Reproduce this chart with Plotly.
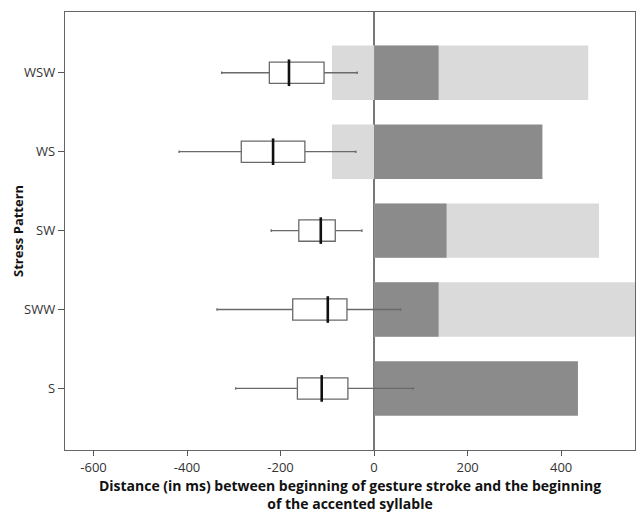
import plotly.graph_objects as go

# ---- data ----
categories = ["S", "SWW", "SW", "WS", "WSW"]

light_start = [0, 0, 0, -90, -90]
light_end = [0, 600, 481, 0, 458]
dark_end = [436, 138, 155, 360, 138]

box_lower = [-296, -336, -220, -417, -326]
box_q1 = [-164, -174, -161, -284, -224]
box_median = [-112, -99, -114, -216, -182]
box_q3 = [-56, -58, -83, -148, -107]
box_upper = [84, 57, -26, -39, -36]

x_ticks = [-600, -400, -200, 0, 200, 400]

FONT = "Open Sans"

fig = go.Figure()

fig.add_trace(go.Bar(
    y=categories,
    x=[e - s for s, e in zip(light_start, light_end)],
    base=light_start,
    orientation="h",
    width=0.69,
    marker=dict(color="#dadada", line=dict(width=0)),
    showlegend=False,
))
fig.add_trace(go.Bar(
    y=categories,
    x=dark_end,
    base=[0] * len(categories),
    orientation="h",
    width=0.69,
    marker=dict(color="#8b8b8b", line=dict(width=0)),
    showlegend=False,
))

fig.add_trace(go.Box(
    y=categories,
    orientation="h",
    q1=box_q1,
    median=box_median,
    q3=box_q3,
    lowerfence=box_lower,
    upperfence=box_upper,
    width=0.27,
    whiskerwidth=0.12,
    fillcolor="white",
    line=dict(color="#6a6a6a", width=1.3),
    boxpoints=False,
    showlegend=False,
))

fig.add_trace(go.Scatter(
    x=box_median,
    y=categories,
    mode="markers",
    marker=dict(symbol="line-ns", size=19, line=dict(color="#111111", width=2.6)),
    showlegend=False,
    hoverinfo="skip",
))

fig.update_layout(
    width=636,
    height=519,
    margin=dict(l=65, r=1, t=12, b=69, autoexpand=False),
    paper_bgcolor="white",
    plot_bgcolor="white",
    barmode="overlay",
    font=dict(family=FONT, color="#333333", size=13),
)

fig.update_xaxes(
    automargin=False,
    range=[-661, 558],
    tickvals=x_ticks,
    ticktext=[str(v) for v in x_ticks],
    ticks="outside",
    ticklen=5,
    tickcolor="#555555",
    showgrid=False,
    showline=True,
    linecolor="#666666",
    linewidth=1.3,
    mirror=True,
    zeroline=True,
    zerolinecolor="#777777",
    zerolinewidth=1.5,
    tickfont=dict(family=FONT, size=13, color="#333333"),
    title=dict(
        text="<b>Distance (in ms) between beginning of gesture stroke and the beginning<br>of the accented syllable</b>",
        font=dict(family=FONT, size=14, color="#111111"),
        standoff=5,
    ),
)

fig.update_yaxes(
    automargin=False,
    type="category",
    categoryorder="array",
    categoryarray=categories,
    range=[-0.78, 4.77],
    ticks="outside",
    ticklen=6,
    tickcolor="#555555",
    showgrid=False,
    showline=True,
    linecolor="#666666",
    linewidth=1.3,
    mirror=True,
    tickfont=dict(family=FONT, size=13, color="#333333"),
)

fig.add_annotation(
    text="<b>Stress Pattern</b>",
    xref="paper", yref="paper",
    x=-0.0825, y=0.5,
    xanchor="center", yanchor="middle",
    textangle=-90,
    showarrow=False,
    font=dict(family=FONT, size=13, color="#111111"),
)

fig.write_html(
    "out.html",
    config={"displayModeBar": False},
    post_script="document.body.style.margin='0';document.body.style.padding='0';",
)
